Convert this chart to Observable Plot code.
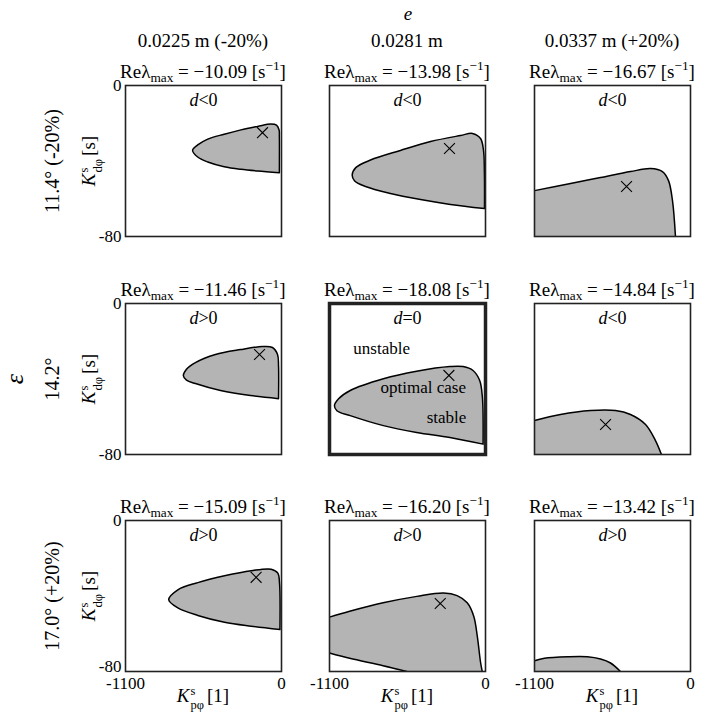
<!DOCTYPE html>
<html><head><meta charset="utf-8">
<script src="https://cdn.jsdelivr.net/npm/d3@7"></script>
<script src="https://cdn.jsdelivr.net/npm/@observablehq/plot@0.6"></script>
<style>
body{margin:0;background:#fff}
#chart{position:relative;width:701px;height:717px;font-family:"Liberation Serif",serif;color:#000;overflow:hidden}
.lbl{position:absolute;transform:translate(-50%,-50%);white-space:nowrap;line-height:1;font-size:19px}
.rot{transform:translate(-50%,-50%) rotate(-90deg)}
.lbl sub,.lbl sup{font-size:0.7em;line-height:0}
.ss{display:inline-flex;flex-direction:column;font-size:0.66em;vertical-align:0.6em;line-height:1.15;margin-left:1px;margin-right:3px}
.panel{position:absolute}
</style></head>
<body><div id="chart"></div>
<script>
// ---- data ----
const kpTicks = [-1100, 0];
const kdTicks = [-80, 0];
const eLabels = ["0.0225 m (-20%)", "0.0281 m", "0.0337 m (+20%)"];
const epsLabels = ["11.4° (-20%)", "14.2°", "17.0° (+20%)"];
const reLambda = [
  [-10.09, -13.98, -16.67],
  [-11.46, -18.08, -14.84],
  [-15.09, -16.20, -13.42]
];
const dSign = [
  ["d<0", "d<0", "d<0"],
  ["d>0", "d=0", "d<0"],
  ["d>0", "d>0", "d>0"]
];
const optimum = [
  [[-134, -25.0], [-254, -33.4], [-451, -53.5]],
  [[-155, -27.0], [-258, -38.1], [-599, -64.1]],
  [[-179, -30.1], [-319, -44.0], null]
];
// stability-region boundaries [Kp, Kd], one or more pieces per panel
const region11 = [[[-15,-46.2],[-169,-45.3],[-286,-44.4],[-404,-43.0],[-520,-40.5],[-591,-37.9],[-627,-34.3],[-591,-31.5],[-520,-28.4],[-404,-25.8],[-286,-23.5],[-169,-21.7],[-75,-20.4],[-35,-21.0],[-17,-23.6],[-15,-27.0],[-15,-46.2]]];
const region12 = [[[-7,-65.2],[-247,-63.0],[-458,-60.4],[-670,-57.2],[-846,-53.5],[-924,-50.4],[-940,-47.5],[-915,-43.5],[-811,-39.5],[-600,-34.4],[-388,-29.7],[-176,-26.5],[-92,-25.4],[-35,-28.1],[-14,-34.5],[-8,-45.0],[-7,-65.2]]];
const region13 = [[[-1100,-55.7],[-846,-51.9],[-635,-48.8],[-423,-45.6],[-282,-44.0],[-198,-45.6],[-155,-50.4],[-127,-61.0],[-106,-80]]];
const region21 = [[[-21,-50.4],[-219,-48.8],[-430,-46.1],[-607,-42.4],[-670,-40.6],[-692,-38.3],[-670,-34.8],[-607,-31.3],[-466,-27.0],[-289,-24.4],[-134,-22.8],[-64,-23.3],[-28,-27.0],[-21,-32.9],[-21,-50.4]]];
const region22 = [[[-17,-74.5],[-251,-71.0],[-486,-68.3],[-720,-64.7],[-954,-59.4],[-1048,-56.8],[-1065,-54.1],[-1036,-50.5],[-954,-46.1],[-720,-39.9],[-486,-35.9],[-251,-33.4],[-158,-33.4],[-88,-35.5],[-41,-40.8],[-22,-49.7],[-17,-74.5]]];
const region23 = [[[-1100,-62.0],[-917,-58.8],[-705,-56.7],[-529,-56.7],[-423,-58.8],[-317,-64.1],[-247,-72.6],[-205,-80]]];
const region31 = [[[-11,-57.8],[-214,-56.0],[-402,-53.9],[-590,-50.3],[-731,-46.3],[-795,-42.0],[-731,-36.7],[-590,-32.9],[-402,-29.3],[-214,-26.6],[-73,-25.8],[-26,-27.9],[-14,-33.2],[-11,-57.8]]];
const region32 = [
  [[-1100,-51.2],[-958,-48.1],[-722,-43.6],[-484,-40.2],[-296,-38.4],[-200,-39.8],[-129,-43.6],[-83,-50.7],[-58,-61.2],[-35,-75.1],[-23,-80]],
  [[-555,-80],[-722,-76.9],[-958,-73.0],[-1100,-70.2]]
];
const region33 = [[[-1100,-74.3],[-1030,-73.0],[-866,-72.2],[-727,-72.2],[-634,-73.4],[-564,-75.5],[-494,-80]]];
const regions = [[region11, region12, region13], [region21, region22, region23], [region31, region32, region33]];
const caseNotes = [{text: "unstable", kp: -732, kd: -23.9}, {text: "optimal case", kp: -439, kd: -44.7}, {text: "stable", kp: -275, kd: -60.3}];

// ---- layout ----
const colLeft = [125, 329, 534], rowTop = [85, 303, 520];
const PW = 156, PH = 151;
const ML = 44, MR = 6, MT = 6;
const xDomain = d3.extent(kpTicks), yDomain = d3.extent(kdTicks);
const FILL = "#b4b4b4";

function fillPath(pieces) {
  const x0 = xDomain[0], y0 = yDomain[0];
  const first = pieces[0][0];
  const lp = pieces[pieces.length - 1];
  const last = lp[lp.length - 1];
  if (pieces.length === 1 && first[0] === last[0] && first[1] === last[1]) return pieces[0];
  const out = [];
  pieces.forEach((p, i) => {
    const next = pieces[(i + 1) % pieces.length][0];
    const end = p[p.length - 1];
    out.push(p[0], ...p, end);
    if ((end[1] === y0 && next[0] === x0) || (end[0] === x0 && next[1] === y0)) out.push([x0, y0], [x0, y0]);
  });
  out.push(first);
  return out;
}

const chart = document.getElementById("chart");
function addLabel(html, x, y, extraClass = "", style = "") {
  const d = document.createElement("div");
  d.className = "lbl " + extraClass;
  d.style.left = x + "px"; d.style.top = y + "px";
  if (style) d.style.cssText += style;
  d.innerHTML = html;
  chart.appendChild(d);
}

for (let r = 0; r < 3; r++) {
  for (let c = 0; c < 3; c++) {
    const pieces = regions[r][c];
    const MB = r === 2 ? 28 : 6;
    const mid = r === 1 && c === 1;
    const strokeData = pieces.flatMap((p, i) => p.map(d => ({x: d[0], y: d[1], z: i})));
    const marks = [
      Plot.line(fillPath(pieces), {x: d => d[0], y: d => d[1], curve: "catmull-rom", fill: FILL, stroke: "none", clip: true}),
      Plot.line(strokeData, {x: "x", y: "y", z: "z", curve: "catmull-rom", stroke: "black", strokeWidth: 1.5, clip: true}),
      Plot.text([dSign[r][c]], {frameAnchor: "top", lineAnchor: "middle", dy: 15, text: d => d, fontSize: 18})
    ];
    if (optimum[r][c]) marks.push(Plot.dot([optimum[r][c]], {x: d => d[0], y: d => d[1], symbol: "times", r: 5, stroke: "black", strokeWidth: 1.1}));
    if (mid) marks.push(Plot.text(caseNotes, {x: "kp", y: "kd", text: "text", fontSize: 17}));
    marks.push(Plot.frame({stroke: "#222", strokeWidth: mid ? 3.5 : 1.6}));
    const svg = Plot.plot({
      width: ML + PW + MR, height: MT + PH + MB,
      marginLeft: ML, marginRight: MR, marginTop: MT, marginBottom: MB,
      x: {domain: xDomain, axis: r === 2 ? "bottom" : null, ticks: kpTicks, tickSize: 0, tickPadding: 5, tickFormat: d => String(d), label: null},
      y: {domain: yDomain, axis: c === 0 ? "left" : null, ticks: kdTicks, tickSize: 0, tickPadding: 4, tickFormat: d => String(d), label: null},
      style: {background: "transparent", fontFamily: "Liberation Serif", fontSize: "17px", overflow: "visible", color: "black"},
      marks
    });
    svg.querySelectorAll("text").forEach(t => {
      const m = /^d([<>=]0)$/.exec(t.textContent);
      if (m) t.innerHTML = `<tspan font-style="italic">d</tspan>${m[1].replace("<", "&lt;").replace(">", "&gt;")}`;
      // lift the lowest y tick label of the bottom row clear of the x tick labels
      if (r === 2 && c === 0 && t.textContent === String(yDomain[0])) {
        const tr = t.getAttribute("transform") || "";
        t.setAttribute("transform", tr + " translate(0,-5)");
      }
    });
    const wrap = document.createElement("div");
    wrap.className = "panel";
    wrap.style.left = (colLeft[c] - ML) + "px";
    wrap.style.top = (rowTop[r] - MT) + "px";
    wrap.appendChild(svg);
    chart.appendChild(wrap);
    // panel title
    const v = reLambda[r][c].toFixed(2).replace("-", "−");
    addLabel(`Re&lambda;<sub>max</sub> = ${v} [s<sup>−1</sup>]`, colLeft[c] + PW / 2, rowTop[r] - 14);
  }
}
// column headers
addLabel("<i>e</i>", 408, 13);
eLabels.forEach((t, c) => addLabel(t, colLeft[c] + PW / 2, 40));
// row labels and y-axis labels
epsLabels.forEach((t, r) => {
  const cy = rowTop[r] + PH / 2;
  addLabel(t, 52, cy, "rot", "font-size:20px");
  addLabel(`<i>K</i><span class="ss"><span>s</span><span>dφ</span></span>[s]`, 91, cy, "rot");
});
addLabel("<i>ε</i>", 15, rowTop[1] + PH / 2, "rot", "font-size:26px");
// x-axis labels
for (let c = 0; c < 3; c++) addLabel(`<i>K</i><span class="ss"><span>s</span><span>pφ</span></span>[1]`, colLeft[c] + PW / 2, 698);
</script>
</body></html>
